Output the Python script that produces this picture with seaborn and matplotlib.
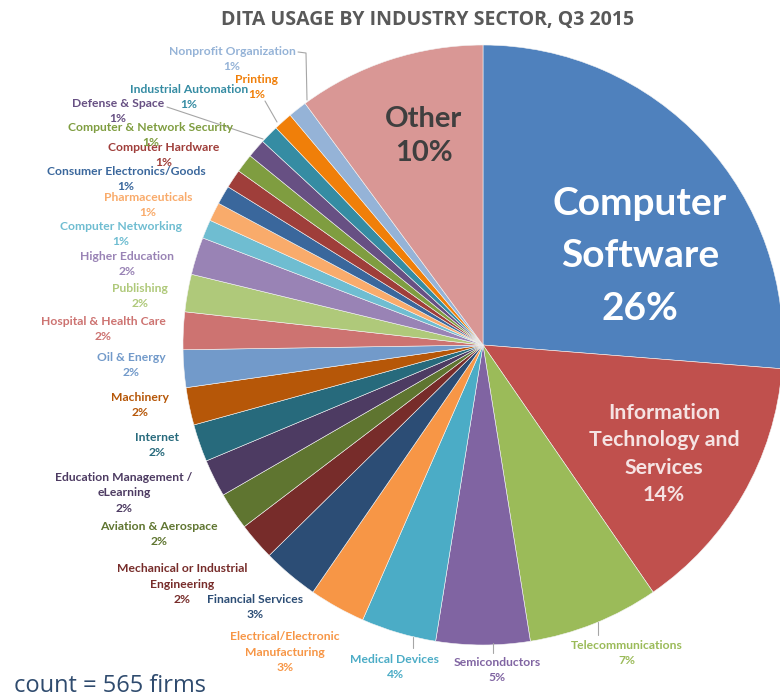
import matplotlib
matplotlib.use("Agg")
import matplotlib.pyplot as plt
import seaborn as sns

sns.set_theme(style="white")
plt.rcParams["font.family"] = ["Lato", "DejaVu Sans"]

# data, clockwise from 12 o'clock
SECTORS = [
    "Computer\nSoftware", "Information\nTechnology and\nServices", "Telecommunications",
    "Semiconductors", "Medical Devices", "Electrical/Electronic\nManufacturing",
    "Financial Services", "Mechanical or Industrial\nEngineering", "Aviation & Aerospace",
    "Education Management /\neLearning", "Internet", "Machinery", "Oil & Energy",
    "Hospital & Health Care", "Publishing", "Higher Education", "Computer Networking",
    "Pharmaceuticals", "Consumer Electronics/Goods", "Computer Hardware",
    "Computer & Network Security", "Defense & Space", "Industrial Automation",
    "Printing", "Nonprofit Organization", "Other",
]
PERCENT = [26, 14, 7, 5, 4, 3, 3, 2, 2, 2, 2, 2, 2, 2, 2, 2, 1, 1, 1, 1, 1, 1, 1, 1, 1, 10]

COLORS = [
    "#4F81BD", "#C0504D", "#9BBB59", "#8064A2", "#4BACC6", "#F79646",
    "#2C4D75", "#772C2A", "#5F7530", "#4D3B62", "#276A7C", "#B65708",
    "#729ACA", "#CD7371", "#AFC97A", "#9983B5", "#6FBDD1", "#F9AB6B",
    "#3A679C", "#9F3E3A", "#7F9D40", "#675083", "#358CA3", "#F07F09",
    "#95B3D7", "#D99795",
]

# label block centres in pixels (from top-left)
LABEL_PX = [
    (640, 256), (664, 454), (627, 653), (497, 670), (395, 667), (285, 652),
    (255, 607), (182, 584), (159, 534), (124, 493), (157, 445), (140, 405),
    (131, 365), (103, 329), (140, 296), (127, 264), (121, 234), (148, 205),
    (126, 179), (164, 155), (151, 135), (118, 111), (189, 97), (257, 87),
    (232, 59), (424, 136),
]

W, H = 780, 698
CX, CY, R = 483, 345, 300

fig = plt.figure(figsize=(W / 100, H / 100), dpi=100)
ax = fig.add_axes([(CX - R) / W, (H - CY - R) / H, 2 * R / W, 2 * R / H])
ax.pie(PERCENT, colors=COLORS, startangle=90, counterclock=False,
       wedgeprops=dict(linewidth=0.4, edgecolor="#f4f4f4"))
ax.set_xlim(-1, 1)
ax.set_ylim(-1, 1)
ax.set_aspect("equal")
ax.axis("off")


def fx(px):
    return px / W


def fy(py):
    return 1 - py / H


for i, (name, pct) in enumerate(zip(SECTORS, PERCENT)):
    x, y = LABEL_PX[i]
    text = f"{name}\n{pct}%"
    if i == 0:
        fig.text(fx(x), fy(y), text, ha="center", va="center", color="white",
                 fontsize=28, fontweight="bold", linespacing=1.62)
    elif i == 1:
        fig.text(fx(x), fy(y), text, ha="center", va="center", color="#F5E3E3",
                 fontsize=15.3, fontweight="bold", linespacing=1.45)
    elif name == "Other":
        fig.text(fx(x), fy(y), text, ha="center", va="center", color="#3F3F3F",
                 fontsize=21, fontweight="bold", linespacing=1.42)
    else:
        fig.text(fx(x), fy(y), text, ha="center", va="center", color=COLORS[i],
                 fontsize=8.7, fontweight="bold", linespacing=1.5)

# leader lines
LEADERS = [
    [(298, 52), (306, 53), (307, 100)],
    [(265, 101), (277, 122)],
    [(167, 107), (263, 139)],
    [(413, 637), (413, 648)],
    [(493, 643), (493, 653)],
    [(598, 622), (598, 635)],
]
for pts in LEADERS:
    fig.add_artist(plt.Line2D([fx(p[0]) for p in pts], [fy(p[1]) for p in pts],
                              color="#A6A6A6", linewidth=0.8))

fig.text(fx(428), fy(20), "DITA USAGE BY INDUSTRY SECTOR, Q3 2015", ha="center",
         va="center", color="#595959", fontsize=14, fontweight="bold", family="Open Sans")
fig.text(fx(14), fy(686), "count = 565 firms", ha="left", va="center",
         color="#2F4B6E", fontsize=17, family="Open Sans")

fig.savefig("out.png", dpi=100)
